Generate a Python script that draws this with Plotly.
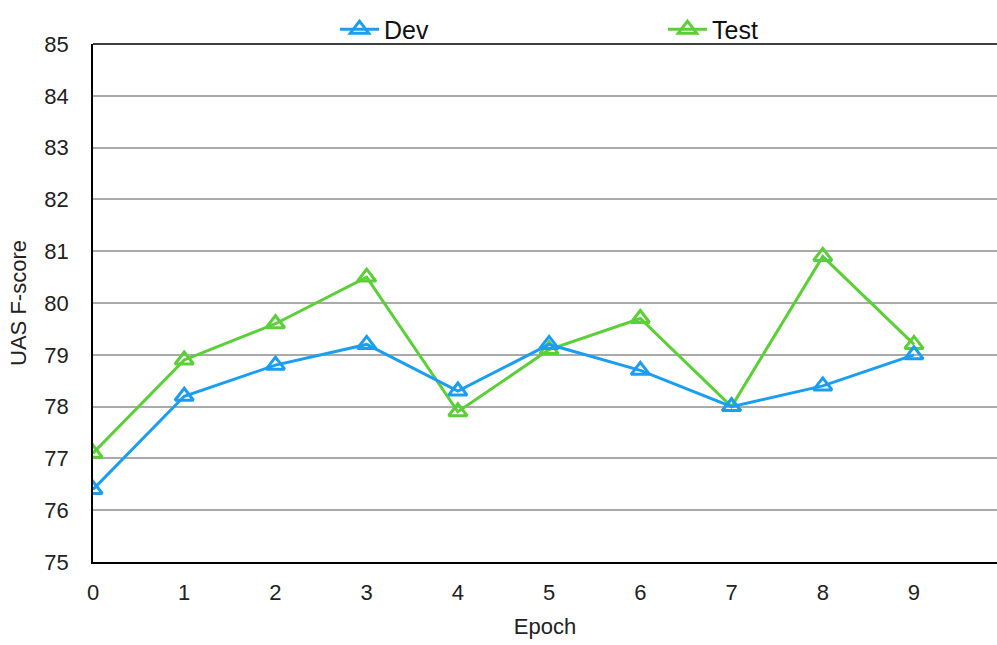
import plotly.graph_objects as go

epochs = [0, 1, 2, 3, 4, 5, 6, 7, 8, 9]
dev = [76.4, 78.2, 78.8, 79.2, 78.3, 79.2, 78.7, 78.0, 78.4, 79.0]
test = [77.1, 78.9, 79.6, 80.5, 77.9, 79.1, 79.7, 78.0, 80.9, 79.2]

blue = "#1A9EF2"
green = "#5ACF36"
font_family = "Liberation Sans, Arial, sans-serif"

fig = go.Figure()
fig.add_trace(go.Scatter(
    x=epochs, y=test, name="Test", mode="lines+markers",
    line=dict(color=green, width=3),
    marker=dict(symbol="triangle-up-open", size=16, line=dict(width=3, color=green)),
    legend="legend2",
))
fig.add_trace(go.Scatter(
    x=epochs, y=dev, name="Dev", mode="lines+markers",
    line=dict(color=blue, width=3),
    marker=dict(symbol="triangle-up-open", size=16, line=dict(width=3, color=blue)),
    legend="legend",
))

leg_common = dict(
    orientation="h", yanchor="top", y=1.0725,
    font=dict(size=25, color="#111111"),
    itemwidth=39,
    bgcolor="rgba(0,0,0,0)",
)

fig.update_layout(
    width=997, height=645,
    margin=dict(l=93, r=0, t=44, b=83),
    plot_bgcolor="white", paper_bgcolor="white",
    font=dict(family=font_family, color="#222222", size=22),
    showlegend=True,
    legend=dict(x=0.2677, xanchor="left", **leg_common),
    legend2=dict(x=0.6305, xanchor="left", **leg_common),
    xaxis=dict(
        range=[0, 9.91], tickmode="array", tickvals=epochs,
        ticktext=[str(e) for e in epochs],
        showgrid=False, zeroline=False,
        showline=True, linecolor="black", linewidth=1.5,
        ticks="", ticklabelstandoff=10,
        title=dict(text="Epoch", font=dict(size=22), standoff=14),
        tickfont=dict(size=22),
    ),
    yaxis=dict(
        range=[75, 85], dtick=1,
        showgrid=True, gridcolor="#AAAAAA", gridwidth=1.5,
        zeroline=False,
        showline=True, linecolor="black", linewidth=1.5, mirror=False,
        ticks="", ticklabelstandoff=18,
        title=dict(text="UAS F-score", font=dict(size=22), standoff=12),
        tickfont=dict(size=22),
    ),
)
fig.add_shape(type="line", xref="paper", yref="paper", x0=0, x1=1, y0=1, y1=1,
              line=dict(color="black", width=1.5))

fig.write_html("out.html", config={"displayModeBar": False},
               post_script="document.body.style.margin='0px';")
